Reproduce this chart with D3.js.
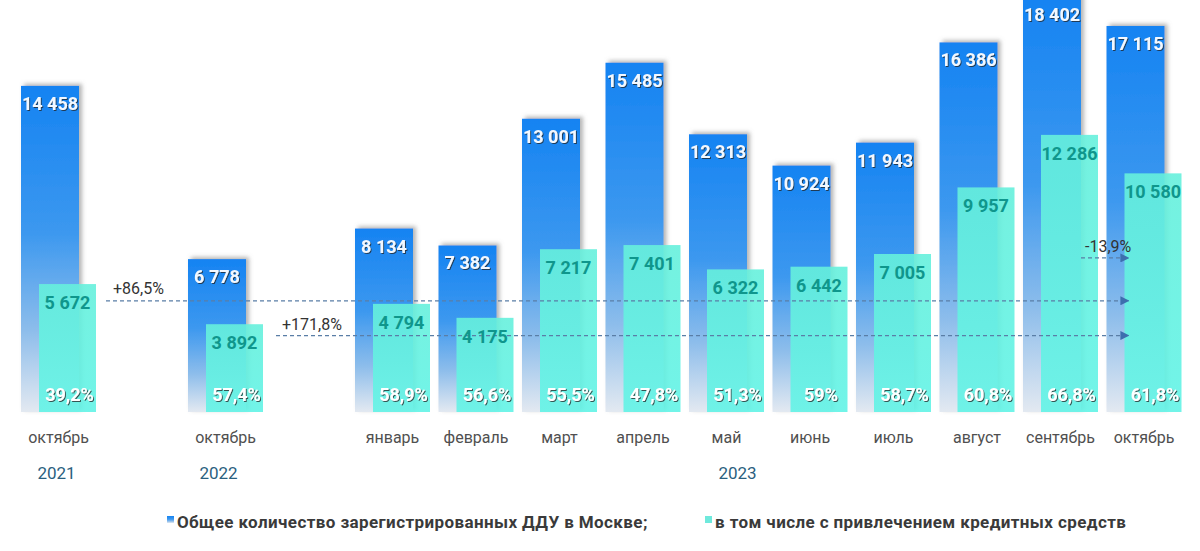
<!DOCTYPE html>
<html><head><meta charset="utf-8">
<script src="https://cdn.jsdelivr.net/npm/d3@7"></script>
<style>
html,body{margin:0;padding:0;background:#fff;}
svg{display:block;font-family:Roboto,"Noto Sans",sans-serif;}
</style></head>
<body>
<svg id="c" width="1200" height="551"></svg>
<script>
// ---- data ----
const slotKeys = ["2021-10","gap1","2022-10","gap2","2023-01","2023-02","2023-03","2023-04","2023-05","2023-06","2023-07","2023-08","2023-09","2023-10"];
const keys = ["2021-10","2022-10","2023-01","2023-02","2023-03","2023-04","2023-05","2023-06","2023-07","2023-08","2023-09","2023-10"];
const monthLabels = ["октябрь","октябрь","январь","февраль","март","апрель","май","июнь","июль","август","сентябрь","октябрь"];
const totalDDU = [14458, 6778, 8134, 7382, 13001, 15485, 12313, 10924, 11943, 16386, 18402, 17115];
const creditDDU = [5672, 3892, 4794, 4175, 7217, 7401, 6322, 6442, 7005, 9957, 12286, 10580];
const shareLabels = ["39,2%","57,4%","58,9%","56,6%","55,5%","47,8%","51,3%","59%","58,7%","60,8%","66,8%","61,8%"];
const yearLabels = ["2021","2022","2023"];
const yearAnchor = ["2021-10","2022-10","2023-05"];
const annLabels = ["+86,5%","+171,8%","-13,9%"];
const annFrom = ["2021-10","2022-10","2023-09"];
const annTo = ["2023-10","2023-10","2023-10"];
const annLevel = [4930, 3390, 6830];
const legendLabels = ["Общее количество зарегистрированных ДДУ в Москве;","в том числе с привлечением кредитных средств"];

const svg = d3.select("#c");
const x = d3.scaleBand().domain(slotKeys).range([21, 21 + 14 * 83.5]).padding(0);
const y = d3.scaleLinear().domain([0, 18000]).range([412, 6]);
const bw = 58, cOff = 18, cw = 57;

const defs = svg.append("defs");
const gb = defs.append("linearGradient").attr("id","gBlue").attr("x1",0).attr("y1",0).attr("x2",0).attr("y2",1);
gb.append("stop").attr("offset","0%").attr("stop-color","#1583f2");
gb.append("stop").attr("offset","45%").attr("stop-color","#3c98ef");
gb.append("stop").attr("offset","75%").attr("stop-color","#8dbdeb");
gb.append("stop").attr("offset","100%").attr("stop-color","#e3e9f1");
const gc = defs.append("linearGradient").attr("id","gCyan").attr("x1",0).attr("y1",0).attr("x2",0).attr("y2",1);
gc.append("stop").attr("offset","0%").attr("stop-color","#66f0dc");
gc.append("stop").attr("offset","100%").attr("stop-color","#62f3e6");
const f1 = defs.append("filter").attr("id","shBar").attr("x","-20%").attr("y","-20%").attr("width","140%").attr("height","140%");
f1.append("feDropShadow").attr("dx",3).attr("dy",-2).attr("stdDeviation",2).attr("flood-color","#777").attr("flood-opacity",0.55);
const f2 = defs.append("filter").attr("id","shTxt").attr("x","-20%").attr("y","-40%").attr("width","140%").attr("height","180%");
f2.append("feDropShadow").attr("dx",1).attr("dy",1).attr("stdDeviation",0.7).attr("flood-color","#222").attr("flood-opacity",0.75);
defs.append("marker").attr("id","arr").attr("viewBox","0 0 10 10").attr("refX",9).attr("refY",5)
  .attr("markerWidth",9).attr("markerHeight",9).attr("orient","auto").attr("markerUnits","userSpaceOnUse")
  .append("path").attr("d","M0,0L10,5L0,10Z").attr("fill","#3d6fae");

const rows = keys.map((k,i)=>({k, m:monthLabels[i], t:totalDDU[i], c:creditDDU[i], s:shareLabels[i]}));

// blue bars
svg.append("g").selectAll("rect").data(rows).join("rect")
  .attr("x",d=>x(d.k)).attr("width",bw)
  .attr("y",d=>y(d.t)).attr("height",d=>y(0)-y(d.t))
  .attr("fill","url(#gBlue)").attr("filter","url(#shBar)");

// cyan bars
svg.append("g").selectAll("rect").data(rows).join("rect")
  .attr("x",d=>x(d.k)+cOff).attr("width",cw)
  .attr("y",d=>y(d.c)).attr("height",d=>y(0)-y(d.c))
  .attr("fill","url(#gCyan)").attr("fill-opacity",0.9);

// annotations
const ann = annLabels.map((l,i)=>({l, f:annFrom[i], t:annTo[i], v:annLevel[i]}));
const startOff = [85, 88, 58];
const ag = svg.append("g");
ag.selectAll("line").data(ann).join("line")
  .attr("x1",(d,i)=>x(d.f)+startOff[i]).attr("x2",d=>x(d.t)+22)
  .attr("y1",d=>y(d.v)).attr("y2",d=>y(d.v))
  .attr("stroke","#5a7ea6").attr("stroke-width",1.2).attr("stroke-dasharray","4,3")
  .attr("marker-end","url(#arr)");
ag.selectAll("text").data(ann).join("text")
  .attr("x",(d,i)=>x(d.f)+startOff[i]+[7,6,4][i]).attr("y",(d,i)=>y(d.v)-[7,6,6][i])
  .attr("font-size",16).attr("fill","#333").text(d=>d.l);

// value labels
svg.append("g").selectAll("text").data(rows).join("text")
  .attr("x",d=>x(d.k)+bw/2).attr("y",d=>y(d.t)+24).attr("text-anchor","middle")
  .attr("font-size",18).attr("font-weight",700).attr("fill","#f2f8ff").attr("filter","url(#shTxt)")
  .text(d=>d3.format(",")(d.t).replace(/,/g," "));
svg.append("g").selectAll("text").data(rows).join("text")
  .attr("x",d=>x(d.k)+cOff+cw/2).attr("y",d=>y(d.c)+25).attr("text-anchor","middle")
  .attr("font-size",18).attr("font-weight",700).attr("fill","#0f968c")
  .text(d=>d3.format(",")(d.c).replace(/,/g," "));
svg.append("g").selectAll("text").data(rows).join("text")
  .attr("x",d=>x(d.k)+cOff+cw/2+2).attr("y",y(0)-11).attr("text-anchor","middle")
  .attr("font-size",18).attr("font-weight",700).attr("fill","#fff").attr("filter","url(#shTxt)")
  .text(d=>d.s);

// month labels
svg.append("g").selectAll("text").data(rows).join("text")
  .attr("x",d=>x(d.k)+(cOff+cw)/2).attr("y",443).attr("text-anchor","middle")
  .attr("font-size",16).attr("fill","#505050").text(d=>d.m);

// year labels
svg.append("g").selectAll("text").data(yearLabels).join("text")
  .attr("x",(d,i)=>x(yearAnchor[i])+(cOff+cw)/2+[-2,-7,11][i]).attr("y",479).attr("text-anchor","middle")
  .attr("font-size",17).attr("fill","#2b5f80").text(d=>d);

// legend
const lg = svg.append("g");
const lx = [167, 705];
lg.selectAll("rect").data(legendLabels).join("rect")
  .attr("x",(d,i)=>lx[i]).attr("y",516).attr("width",7).attr("height",7)
  .attr("fill",(d,i)=>i===0?"url(#gBlue)":"#6fe9dc");
lg.selectAll("text").data(legendLabels).join("text")
  .attr("x",(d,i)=>lx[i]+10).attr("y",528)
  .attr("font-size",17).attr("font-weight",700).attr("letter-spacing",0.4).attr("fill","#3a3a3a").text(d=>d);
</script>
</body></html>
